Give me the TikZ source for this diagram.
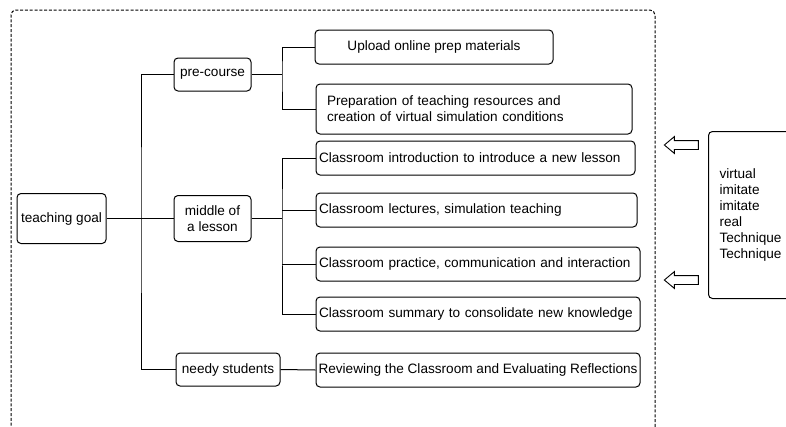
\documentclass[tikz,border=0pt]{standalone}
\usepackage{fontspec}
\setmainfont{Liberation Sans}
\usetikzlibrary{shapes.arrows}

\tikzset{
  box/.style={draw, rounded corners=4pt, line width=1pt, inner sep=4pt,
    font=\fontsize{13.6}{16}\selectfont},
  line/.style={box, inner xsep=3pt, minimum height=34pt, align=left},
  link/.style={line width=1pt},
  hollow/.style={draw, single arrow, shape border rotate=180, line width=0.9pt,
    inner sep=4pt, minimum height=34pt, single arrow head extend=4pt,
    single arrow tip angle=80}
}

\begin{document}
\begin{tikzpicture}[x=1pt, y=-1pt]
  \clip (0,0) rectangle (786,426);
  % dashed frame, open at the bottom
  \draw[dash pattern=on 3pt off 1.8pt, line width=1pt, rounded corners=5pt]
  (11,440) -- (11,10) -- (655,10) -- (655,440);

  % first level
  \node[box, minimum width=89pt, minimum height=50pt] (goal) at (61.5,218.5) {teaching goal};
  \node[box, minimum width=77pt, minimum height=33pt] (pre) at (212.5,74.5) {pre-course};
  \node[box, minimum width=77pt, minimum height=46pt, align=center] (mid) at (212.5,218.5)
  {middle of\\a lesson};
  \node[box, minimum width=104pt, minimum height=33pt] (need) at (228,369.5) {needy students};

  % second level
  \node[box, minimum width=238pt, minimum height=34pt] (up) at (434,47)
  {Upload online prep materials};
  \node[box, minimum height=50pt, text width=294pt, inner xsep=11pt, align=left] (prep) at (474,109)
  {Preparation of teaching resources and\\creation of virtual simulation conditions};
  \node[line, text width=313pt] (intro) at (475.5,158)
  {Classroom introduction to introduce a new lesson};
  \node[line, text width=315pt] (lect) at (476.5,210)
  {Classroom lectures, simulation teaching};
  \node[line, text width=318pt] (prac) at (478,264)
  {Classroom practice, communication and interaction};
  \node[line, text width=318pt] (summ) at (478,314)
  {Classroom summary to consolidate new knowledge};
  \node[box, minimum height=34pt, minimum width=324pt, inner xsep=1pt] (rev) at (478,370)
  {Reviewing the Classroom and Evaluating Reflections};

  % side box and arrows
  \node[box, anchor=north west, minimum height=167pt, text width=78pt, inner xsep=11pt,
  align=left] (tech) at (708,131)
  {virtual\\imitate\\imitate\\real\\Technique\\Technique\\[-6pt]};
  \node[hollow] (arrA) at (684,145) {};
  \node[hollow] (arrB) at (684,280) {};

  % connectors
  \draw[link] (goal.east) -- (141,218.5) coordinate (t0);
  \draw[link] (pre.west) -| (t0) |- (need.west);
  \draw[link] (t0) -- (mid.west);
  \draw[link] (pre.east) -- (282,74.5) coordinate (t1);
  \draw[link] (up.west) -| (t1) |- (prep.west);
  \draw[link] (mid.east) -- (282,218.5) coordinate (t2);
  \draw[link] (intro.west) -| (t2) |- (summ.west);
  \draw[link] (t2 |- lect.west) -- (lect.west);
  \draw[link] (t2 |- prac.west) -- (prac.west);
  \draw[link] (need.east) -- (rev.west);
\end{tikzpicture}
\end{document}
